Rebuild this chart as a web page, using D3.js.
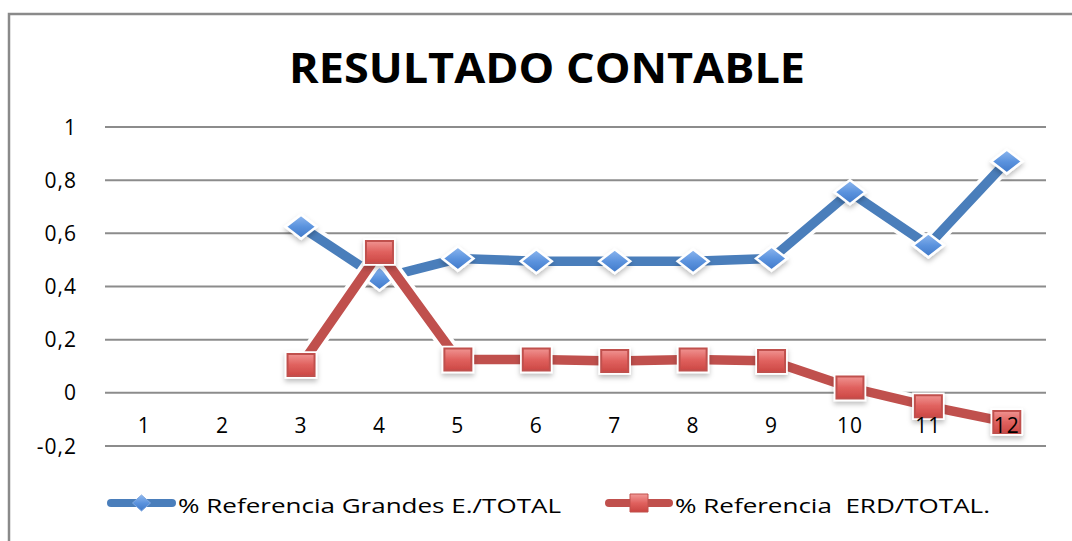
<!DOCTYPE html>
<html>
<head>
<meta charset="utf-8">
<script src="https://cdn.jsdelivr.net/npm/d3@7"></script>
<style>
  body { margin: 0; background: #fff; }
  text { font-family: "Open Sans", sans-serif; fill: #000; white-space: pre; }
</style>
</head>
<body>
<script>
// data
var categories = ["1","2","3","4","5","6","7","8","9","10","11","12"];
var grandes = [null, null, 0.625, 0.43, 0.505, 0.495, 0.495, 0.495, 0.505, 0.755, 0.555, 0.87];
var erd = [null, null, 0.105, 0.53, 0.125, 0.125, 0.12, 0.125, 0.12, 0.02, -0.05, -0.11];
var yTicks = [-0.2, 0, 0.2, 0.4, 0.6, 0.8, 1];
var seriesNames = ["% Referencia Grandes E./TOTAL", "% Referencia  ERD/TOTAL."];

var width = 1072, height = 541;
var plotLeft = 105, plotRight = 1046, plotTop = 127, plotBottom = 446;

var svg = d3.select("body").append("svg")
    .attr("width", width).attr("height", height);

var defs = svg.append("defs");
var shadow = defs.append("filter").attr("id", "shadow")
    .attr("x", "-50%").attr("y", "-50%").attr("width", "200%").attr("height", "200%");
shadow.append("feDropShadow").attr("dx", 0).attr("dy", 3).attr("stdDeviation", 2.5)
    .attr("flood-color", "#000").attr("flood-opacity", 0.25);

var gBlue = defs.append("linearGradient").attr("id", "gradBlue")
    .attr("x1", 0).attr("y1", 0).attr("x2", 0).attr("y2", 1);
gBlue.append("stop").attr("offset", "0%").attr("stop-color", "#8fb8ef");
gBlue.append("stop").attr("offset", "50%").attr("stop-color", "#5b93de");
gBlue.append("stop").attr("offset", "100%").attr("stop-color", "#3f78c8");

var gRed = defs.append("linearGradient").attr("id", "gradRed")
    .attr("x1", 0).attr("y1", 0).attr("x2", 0).attr("y2", 1);
gRed.append("stop").attr("offset", "0%").attr("stop-color", "#f29a98");
gRed.append("stop").attr("offset", "50%").attr("stop-color", "#e0615e");
gRed.append("stop").attr("offset", "100%").attr("stop-color", "#c94441");

// outer frame
svg.append("path")
    .attr("d", "M9," + (height + 2) + "V14H" + (width + 2))
    .attr("fill", "none").attr("stroke", "#8a8a8a").attr("stroke-width", 2.5);

// title
svg.append("text")
    .attr("x", 547).attr("y", 83)
    .attr("text-anchor", "middle")
    .attr("font-size", 42).attr("font-weight", "bold")
    .attr("textLength", 516).attr("lengthAdjust", "spacingAndGlyphs")
    .text("RESULTADO CONTABLE");

var x = d3.scaleBand().domain(categories).range([plotLeft, plotRight]);
var y = d3.scaleLinear().domain([-0.2, 1]).range([plotBottom, plotTop]);
var fmt = function(d){ return String(+d.toFixed(1)).replace(".", ","); };

// gridlines
svg.append("g").selectAll("line").data(yTicks).enter().append("line")
    .attr("x1", plotLeft).attr("x2", plotRight)
    .attr("y1", function(d){ return y(d); }).attr("y2", function(d){ return y(d); })
    .attr("stroke", "#8c8c8c").attr("stroke-width", 2);

// y tick labels
svg.append("g").selectAll("text").data(yTicks).enter().append("text")
    .attr("x", 77).attr("y", function(d){ return y(d) + 7.5; })
    .attr("text-anchor", "end").attr("font-size", 21)
    .attr("letter-spacing", 1)
    .text(fmt);

function drawSeries(values, colour, shape) {
    var pts = values.map(function(v, i){ return {c: categories[i], v: v}; })
        .filter(function(d){ return d.v !== null; });
    var cx = function(d){ return x(d.c) + x.bandwidth() / 2; };
    var line = d3.line().x(cx).y(function(d){ return y(d.v); });
    var g = svg.append("g");
    g.append("path").attr("d", line(pts))
        .attr("fill", "none").attr("stroke", "#fff").attr("stroke-width", 17)
        .attr("stroke-linejoin", "round");
    g.append("path").attr("d", line(pts))
        .attr("fill", "none").attr("stroke", colour).attr("stroke-width", 9.5);
    var m = g.selectAll("path.m").data(pts).enter().append("path")
        .attr("class", "m")
        .attr("transform", function(d){ return "translate(" + cx(d) + "," + y(d.v) + ")"; })
        .attr("filter", "url(#shadow)");
    if (shape === "diamond") {
        m.attr("d", "M-15.5,0L0,-12L15.5,0L0,12Z")
            .attr("fill", "url(#gradBlue)").attr("stroke", "#fff").attr("stroke-width", 2.5);
    } else {
        m.attr("d", "M-15,-12.5H15V12.5H-15Z")
            .attr("fill", "url(#gradRed)").attr("stroke", "#fff").attr("stroke-width", 2.5);
        g.selectAll("path.e").data(pts).enter().append("path")
            .attr("class", "e")
            .attr("transform", function(d){ return "translate(" + cx(d) + "," + y(d.v) + ")"; })
            .attr("d", "M-13.5,-11H13.5V11H-13.5Z")
            .attr("fill", "none").attr("stroke", "#c0504d").attr("stroke-width", 2);
    }
}

drawSeries(grandes, "#4a7ebb", "diamond");
drawSeries(erd, "#c0504d", "square");

// category labels (drawn on top of the marks)
svg.append("g").selectAll("text").data(categories).enter().append("text")
    .attr("x", function(d){ return x(d) + x.bandwidth() / 2; })
    .attr("y", 433)
    .attr("text-anchor", "middle").attr("font-size", 21)
    .attr("letter-spacing", 1)
    .text(function(d){ return d; });

// legend
var legend = [
    {name: seriesNames[0], colour: "#4a7ebb", x0: 111, x1: 172, tx: 178, shape: "diamond", tl: 383},
    {name: seriesNames[1], colour: "#c0504d", x0: 609, x1: 669, tx: 675, shape: "square", tl: 315}
];
var lg = svg.append("g").selectAll("g").data(legend).enter().append("g");
lg.append("line")
    .attr("x1", function(d){ return d.x0; }).attr("x2", function(d){ return d.x1; })
    .attr("y1", 503).attr("y2", 503)
    .attr("stroke", function(d){ return d.colour; }).attr("stroke-width", 8)
    .attr("stroke-linecap", "round");
lg.append("path")
    .attr("transform", function(d){ return "translate(" + ((d.x0 + d.x1) / 2) + ",503)"; })
    .attr("d", function(d){ return d.shape === "diamond" ? "M-9,0L0,-8L9,0L0,8Z" : "M-9,-9H9V9H-9Z"; })
    .attr("fill", function(d){ return d.shape === "diamond" ? "url(#gradBlue)" : "url(#gradRed)"; })
    .attr("stroke", function(d){ return d.shape === "diamond" ? "#7fa8e0" : "#c0504d"; })
    .attr("stroke-width", 1);
lg.append("text")
    .attr("x", function(d){ return d.tx; }).attr("y", 513)
    .attr("font-size", 20.5)
    .attr("textLength", function(d){ return d.tl; }).attr("lengthAdjust", "spacingAndGlyphs")
    .text(function(d){ return d.name; });
</script>
</body>
</html>
